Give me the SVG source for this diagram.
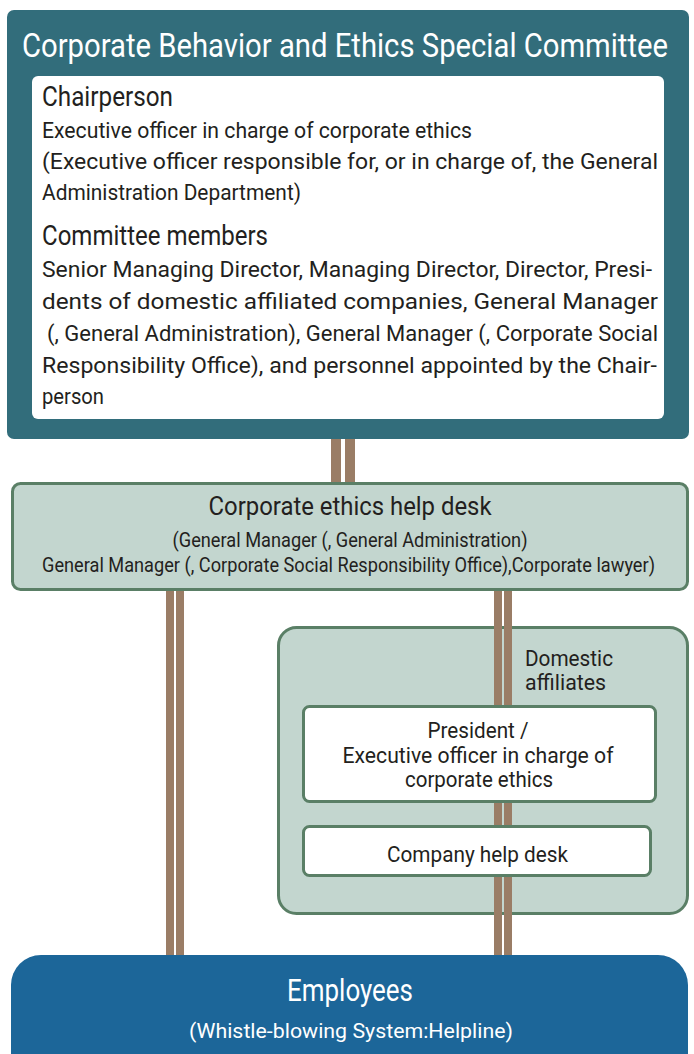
<svg xmlns="http://www.w3.org/2000/svg" width="694" height="1054" viewBox="0 0 694 1054">
<style>
text{font-family:"Liberation Sans Narrow","Roboto","Liberation Sans",sans-serif;fill:#231f20}
.w{fill:#ffffff}
.c{text-anchor:middle}
.conn{fill:#9a7d66}
.green{fill:#c3d6cf;stroke:#5a7f66;stroke-width:3}
.white{fill:#ffffff;stroke:#5a7f66;stroke-width:3}
</style>
<rect width="694" height="1054" fill="#ffffff"/>
<g id="committee">
<rect x="7" y="10" width="682" height="429" rx="7" fill="#326d7b"/>
<text class="w" transform="translate(22,57) scale(1,1.14)" x="0" y="0" font-size="29" textLength="646" lengthAdjust="spacingAndGlyphs">Corporate Behavior and Ethics Special Committee</text>
<rect x="32" y="76" width="632" height="343" rx="6" fill="#ffffff"/>
<text x="42" y="106" font-size="27" textLength="131" lengthAdjust="spacingAndGlyphs">Chairperson</text>
<text x="42" y="138" font-size="22" textLength="430" lengthAdjust="spacingAndGlyphs">Executive officer in charge of corporate ethics</text>
<text x="42" y="169" font-size="22" textLength="616" lengthAdjust="spacingAndGlyphs">(Executive officer responsible for, or in charge of, the General</text>
<text x="42" y="200" font-size="22" textLength="259" lengthAdjust="spacingAndGlyphs">Administration Department)</text>
<text x="42" y="245" font-size="27" textLength="226" lengthAdjust="spacingAndGlyphs">Committee members</text>
<text x="42" y="277" font-size="22" textLength="610" lengthAdjust="spacingAndGlyphs">Senior Managing Director, Managing Director, Director, Presi-</text>
<text x="42" y="309" font-size="22" textLength="616" lengthAdjust="spacingAndGlyphs">dents of domestic affiliated companies, General Manager</text>
<text x="47" y="341" font-size="22" textLength="611" lengthAdjust="spacingAndGlyphs">(, General Administration), General Manager (, Corporate Social</text>
<text x="42" y="373" font-size="22" textLength="615" lengthAdjust="spacingAndGlyphs">Responsibility Office), and personnel appointed by the Chair-</text>
<text x="42" y="404" font-size="22" textLength="62" lengthAdjust="spacingAndGlyphs">person</text>
</g>
<g id="connectors-top">
<rect class="conn" x="331" y="439" width="10" height="45"/>
<rect class="conn" x="345" y="439" width="10" height="45"/>
</g>
<g id="helpdesk">
<rect class="green" x="12.5" y="483.5" width="675" height="106" rx="8"/>
<text class="c" x="350" y="515" font-size="26" textLength="283" lengthAdjust="spacingAndGlyphs">Corporate ethics help desk</text>
<text class="c" x="350" y="547" font-size="19.5" textLength="355" lengthAdjust="spacingAndGlyphs">(General Manager (, General Administration)</text>
<text class="c" transform="translate(348.5,572) scale(1,1.18)" x="0" y="0" font-size="17" textLength="613" lengthAdjust="spacingAndGlyphs">General Manager (, Corporate Social Responsibility Office),Corporate lawyer)</text>
</g>
<g id="domestic">
<rect class="green" x="278.5" y="627.5" width="409" height="286" rx="18"/>
<text x="525" y="666" font-size="22.5" textLength="88" lengthAdjust="spacingAndGlyphs">Domestic</text>
<text x="525" y="690" font-size="22.5" textLength="81" lengthAdjust="spacingAndGlyphs">affiliates</text>
</g>
<g id="connectors">
<rect class="conn" x="166" y="591" width="8" height="365"/>
<rect class="conn" x="176" y="591" width="8" height="365"/>
<rect class="conn" x="494" y="591" width="8" height="365"/>
<rect class="conn" x="504" y="591" width="8" height="365"/>
</g>
<g id="president">
<rect class="white" x="303.5" y="706.5" width="352" height="95" rx="6"/>
<text class="c" x="478" y="738" font-size="22.5" textLength="101" lengthAdjust="spacingAndGlyphs">President /</text>
<text class="c" x="478" y="763" font-size="22.5" textLength="271" lengthAdjust="spacingAndGlyphs">Executive officer in charge of</text>
<text class="c" x="479" y="787" font-size="22.5" textLength="148" lengthAdjust="spacingAndGlyphs">corporate ethics</text>
</g>
<g id="company-helpdesk">
<rect class="white" x="303.5" y="826.5" width="347" height="49" rx="6"/>
<text class="c" x="477.5" y="862" font-size="22.5" textLength="181" lengthAdjust="spacingAndGlyphs">Company help desk</text>
</g>
<g id="employees">
<rect x="11" y="955" width="677" height="130" rx="30" fill="#1c6699"/>
<text class="w c" x="350" y="1001" font-size="32" textLength="126" lengthAdjust="spacingAndGlyphs">Employees</text>
<text class="w c" x="351" y="1038" font-size="21" textLength="324" lengthAdjust="spacingAndGlyphs">(Whistle-blowing System:Helpline)</text>
</g>
</svg>
